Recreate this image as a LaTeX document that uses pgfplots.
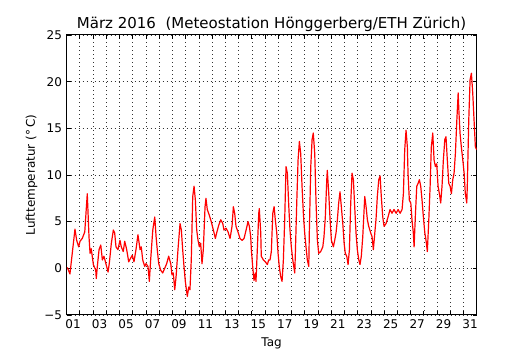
\documentclass[border=0pt]{standalone}
\usepackage{fontspec}
\setmainfont{DejaVu Sans}
\usepackage{pgfplots}
\pgfplotsset{compat=1.18}
\pgfplotstableread{
d T
0.06 0.1
0.26 -0.6
0.64 4.2
0.77 3.0
0.92 2.3
1.02 2.9
1.19 3.2
1.38 3.9
1.50 6.5
1.57 8.0
1.70 3.4
1.78 1.6
1.87 2.1
2.03 0.4
2.21 -0.2
2.25 -1.1
2.33 0.2
2.46 2.0
2.59 2.5
2.71 0.9
2.83 1.3
2.96 0.6
3.14 -0.4
3.24 0.6
3.39 2.7
3.54 4.1
3.64 3.8
3.74 2.3
3.89 2.0
4.04 3.0
4.14 2.3
4.29 1.8
4.40 2.9
4.55 2.0
4.70 0.7
4.85 1.1
4.97 1.4
5.10 0.7
5.25 2.0
5.40 3.6
5.56 2.0
5.65 2.3
5.76 0.9
5.91 0.2
6.01 0.5
6.16 0.2
6.26 -1.4
6.36 0.9
6.52 4.1
6.67 5.5
6.77 3.4
6.86 2.0
6.97 0.5
7.12 -0.2
7.27 -0.5
7.42 0.0
7.57 0.5
7.72 1.3
7.88 0.5
7.97 -0.7
8.07 -0.5
8.18 -2.3
8.28 -0.9
8.43 2.1
8.58 4.8
8.68 4.1
8.78 2.0
8.88 0.2
8.98 -1.4
9.13 -3.0
9.24 -2.0
9.33 -2.3
9.43 0.9
9.54 7.7
9.64 8.8
9.74 7.3
9.84 4.1
9.94 3.0
10.04 2.3
10.14 2.7
10.24 0.5
10.34 2.0
10.47 6.6
10.54 7.5
10.64 6.3
10.79 5.7
10.94 5.0
11.10 4.1
11.25 3.2
11.35 3.8
11.50 4.6
11.66 5.2
11.81 4.8
11.90 4.1
12.06 4.3
12.21 3.9
12.36 3.2
12.51 4.5
12.61 6.6
12.71 5.9
12.81 4.5
12.96 3.9
13.11 3.2
13.27 3.0
13.42 3.2
13.57 4.1
13.72 5.0
13.82 4.5
13.92 3.4
13.97 2.0
14.07 0.2
14.17 -1.3
14.27 -0.5
14.32 -1.4
14.42 2.0
14.53 5.9
14.57 6.4
14.68 3.8
14.72 1.3
14.88 0.9
15.03 0.7
15.18 0.4
15.28 0.9
15.38 0.9
15.48 1.8
15.59 5.9
15.69 6.6
15.78 5.2
15.89 3.8
15.99 1.6
16.08 0.2
16.19 -0.9
16.29 -1.4
16.39 0.9
16.49 5.2
16.59 10.9
16.69 10.2
16.80 6.6
16.89 4.1
16.99 2.3
17.10 0.9
17.25 -0.5
17.29 1.3
17.40 7.0
17.50 11.6
17.60 13.6
17.70 12.3
17.80 8.8
17.90 5.9
18.00 3.8
18.10 2.3
18.20 0.9
18.31 0.2
18.35 3.8
18.46 10.9
18.56 13.8
18.65 14.5
18.76 12.3
18.86 7.0
18.96 3.0
19.06 1.6
19.21 1.8
19.37 2.3
19.46 3.4
19.56 5.5
19.67 9.5
19.71 10.5
19.82 8.0
19.92 5.2
20.02 3.0
20.17 2.3
20.27 3.0
20.37 3.8
20.47 5.2
20.57 7.0
20.67 8.2
20.77 6.6
20.88 4.8
20.98 2.7
21.07 1.6
21.18 1.3
21.28 0.4
21.38 2.0
21.48 7.0
21.58 10.2
21.68 9.5
21.78 6.6
21.88 3.8
21.98 2.0
22.09 0.9
22.18 0.4
22.28 1.3
22.39 3.4
22.54 7.7
22.64 6.6
22.74 5.2
22.84 4.5
22.99 3.8
23.09 3.4
23.19 2.0
23.30 3.8
23.39 5.2
23.49 7.7
23.60 9.5
23.70 9.9
23.79 7.7
23.90 5.5
24.00 4.5
24.15 4.8
24.30 5.5
24.45 6.3
24.60 5.9
24.75 6.3
24.91 5.9
25.06 6.3
25.21 5.9
25.36 6.3
25.46 8.0
25.56 12.7
25.66 14.8
25.76 13.0
25.81 10.2
25.91 7.3
26.02 7.0
26.11 5.2
26.21 3.8
26.27 2.3
26.36 5.5
26.47 8.8
26.57 9.1
26.67 9.5
26.77 8.8
26.87 7.3
26.97 5.5
27.08 3.8
27.17 3.0
27.27 1.8
27.38 5.2
27.48 8.8
27.57 13.0
27.68 14.5
27.78 11.6
27.88 10.9
27.98 11.2
28.08 8.8
28.18 8.0
28.28 7.0
28.38 8.8
28.48 11.6
28.59 13.8
28.68 14.1
28.78 11.6
28.89 9.1
28.99 8.8
29.09 8.0
29.19 9.5
29.29 10.2
29.39 12.3
29.50 15.9
29.60 18.8
29.65 17.0
29.74 14.5
29.84 13.0
29.95 11.6
30.05 10.2
30.14 8.0
30.25 7.0
30.29 8.8
30.40 15.9
30.50 20.2
30.60 20.9
30.70 18.8
30.80 15.9
30.90 13.0
31.00 12.7
}\tempdata
\begin{document}
\begin{tikzpicture}[x=1pt,y=1pt]
\useasboundingbox (0,0) rectangle (530,350);
\begin{axis}[
  at={(66.5pt,35pt)}, anchor=south west,
  scale only axis, width=410.2pt, height=280pt,
  xmin=0, xmax=31, ymin=-5, ymax=25,
  xtick={0,1,...,31},
  x tick label as interval,
  xticklabels={01,{},03,{},05,{},07,{},09,{},11,{},13,{},15,{},17,{},19,{},21,{},23,{},25,{},27,{},29,{},31},
  ytick={-5,0,5,10,15,20,25},
  yticklabels={−5,0,5,10,15,20,25},
  xmajorgrids=true, ymajorgrids=true,
  grid style={black!80, line width=0.5pt, dash pattern=on 1pt off 3pt},
  axis line style={black, line width=1pt},
  tick style={black, line width=0.6pt},
  major tick length=4pt,
  tick align=inside,
  xtick pos=both, ytick pos=both,
  ticklabel style={font=\fontsize{12}{14}\selectfont},
  xticklabel style={yshift=-1pt},
  yticklabel style={xshift=-1pt},
  title={März 2016\ \ (Meteostation Hönggerberg/ETH Zürich)},
  title style={font=\fontsize{15}{18}\selectfont, yshift=-6pt},
  xlabel={Tag},
  xlabel style={yshift=-2pt},
  ylabel={Lufttemperatur (°\,C)},
  label style={font=\fontsize{12}{14}\selectfont},
]
\addplot[red, line width=1.2pt, line join=round] table[x=d, y=T] {\tempdata};
\end{axis}
\end{tikzpicture}
\end{document}
